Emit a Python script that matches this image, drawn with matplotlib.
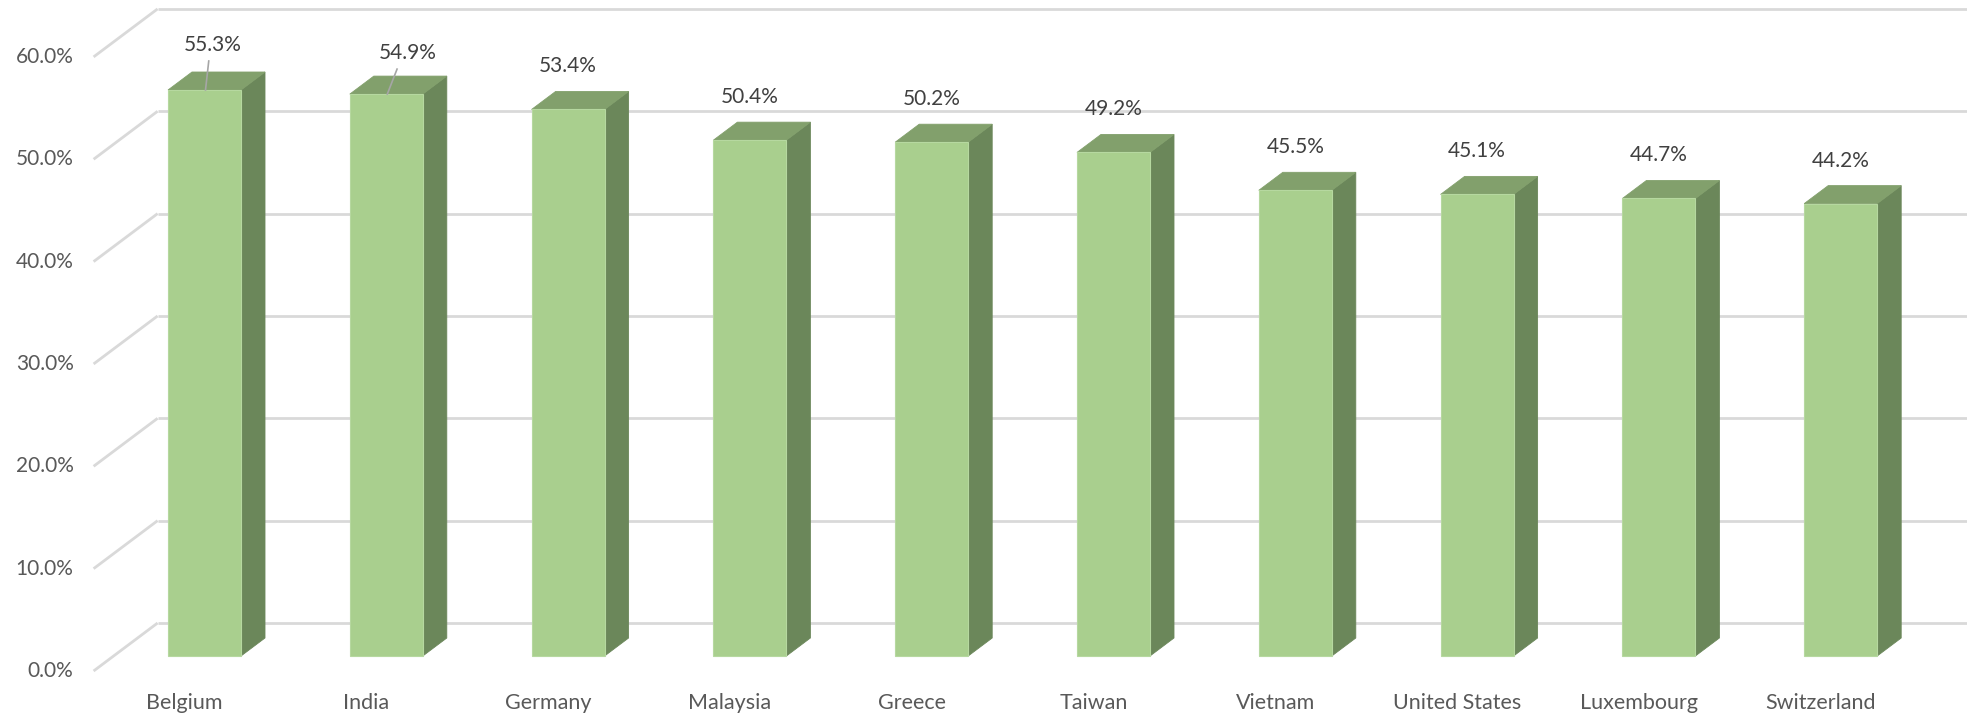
import matplotlib
matplotlib.use("Agg")
import matplotlib.pyplot as plt
from matplotlib.patches import Polygon, Rectangle

# ---------------- data ----------------
categories = ["Belgium", "India", "Germany", "Malaysia", "Greece", "Taiwan",
              "Vietnam", "United States", "Luxembourg", "Switzerland"]
values = [55.3, 54.9, 53.4, 50.4, 50.2, 49.2, 45.5, 45.1, 44.7, 44.2]
yticks = [0, 10, 20, 30, 40, 50, 60]
ytick_labels = ["0.0%", "10.0%", "20.0%", "30.0%", "40.0%", "50.0%", "60.0%"]

# ---------------- style / layout ----------------
plt.rcParams['font.family'] = ['Lato', 'DejaVu Sans']
FRONT = "#A9CF8E"
SIDE = "#6B875A"
TOP = "#82A06C"
GRID = "#D9D9D9"
TICK_COLOR = "#595959"
LABEL_COLOR = "#404040"

W_PX, H_PX = 1967, 716
DPI = 100
PX_CAT = 181.8       # pixels per category
PX_PCT = 10.235      # pixels per percent
X0_PX = 204.5        # pixel x of first category (bar front plane)
Y0_PX = 656.0        # pixel y of 0% (bar front plane)

# oblique depth vector (full depth from front floor to back wall), in data units
DEPTH_DX = 64 / PX_CAT
DEPTH_DY = 48 / PX_PCT
F_FRONT = -0.3125    # front floor edge, relative to bar front plane
F_BACK = 0.375       # bar back face
F_WALL = 0.6875      # back wall
BAR_W = 73 / PX_CAT

fig = plt.figure(figsize=(W_PX / DPI, H_PX / DPI), dpi=DPI)
ax = fig.add_axes([0, 0, 1, 1])
ax.set_xlim(-X0_PX / PX_CAT, (W_PX - X0_PX) / PX_CAT)
ax.set_ylim((Y0_PX - H_PX) / PX_PCT, Y0_PX / PX_PCT)
ax.axis("off")

n = len(categories)
left_edge = -0.5
right_edge = n - 0.5

# side-wall diagonals and back-wall gridlines
for t in yticks:
    xf = left_edge + F_FRONT * DEPTH_DX
    yf = t + F_FRONT * DEPTH_DY
    xw = left_edge + F_WALL * DEPTH_DX
    yw = t + F_WALL * DEPTH_DY
    ax.plot([xf, xw], [yf, yw], color=GRID, lw=2.0, solid_capstyle="butt", zorder=1)
    ax.plot([xw, right_edge + F_WALL * DEPTH_DX], [yw, yw], color=GRID, lw=2.0,
            solid_capstyle="butt", zorder=1)

# y tick labels
for t, lab in zip(yticks, ytick_labels):
    ax.text(xf - 20 / PX_CAT, t + F_FRONT * DEPTH_DY, lab, ha="right", va="center",
            fontsize=15, color=TICK_COLOR)

# bars
ddx = F_BACK * DEPTH_DX
ddy = F_BACK * DEPTH_DY
for i, v in enumerate(values):
    xl = i - BAR_W / 2
    xr = i + BAR_W / 2
    ax.add_patch(Polygon([(xr, 0), (xr + ddx, ddy), (xr + ddx, v + ddy), (xr, v)],
                         closed=True, facecolor=SIDE, edgecolor=SIDE, lw=0.6, zorder=3))
    ax.add_patch(Polygon([(xl, v), (xr, v), (xr + ddx, v + ddy), (xl + ddx, v + ddy)],
                         closed=True, facecolor=TOP, edgecolor=TOP, lw=0.6, zorder=3))
    ax.add_patch(Rectangle((xl, 0), BAR_W, v, facecolor=FRONT, edgecolor="#B6D8A0",
                           lw=0.8, zorder=4))

# data labels (with manual nudges for the two leader-lined labels)
label_nudge = {0: (8.5, -2), 1: (21.5, 2)}
LABEL_GAP = 25 / PX_PCT
for i, v in enumerate(values):
    dxp, dyp = label_nudge.get(i, (0, 0))
    lx = i + dxp / PX_CAT
    ly = v + ddy + LABEL_GAP - dyp / PX_PCT
    ax.text(lx, ly, f"{v:.1f}%", ha="center", va="center", fontsize=15,
            color=LABEL_COLOR, zorder=6)
    if i in label_nudge:
        ax.plot([lx - (dxp * 0.5) / PX_CAT, i + 1.0 / PX_CAT],
                [ly - 16 / PX_PCT, v], color="#A6A6A6", lw=1.2, zorder=5)

# category labels (at front floor edge)
for i, c in enumerate(categories):
    ax.text(i + F_FRONT * DEPTH_DX, (Y0_PX - 703) / PX_PCT, c, ha="center",
            va="center", fontsize=15.5, color=TICK_COLOR)

fig.savefig("out.png", dpi=DPI)
